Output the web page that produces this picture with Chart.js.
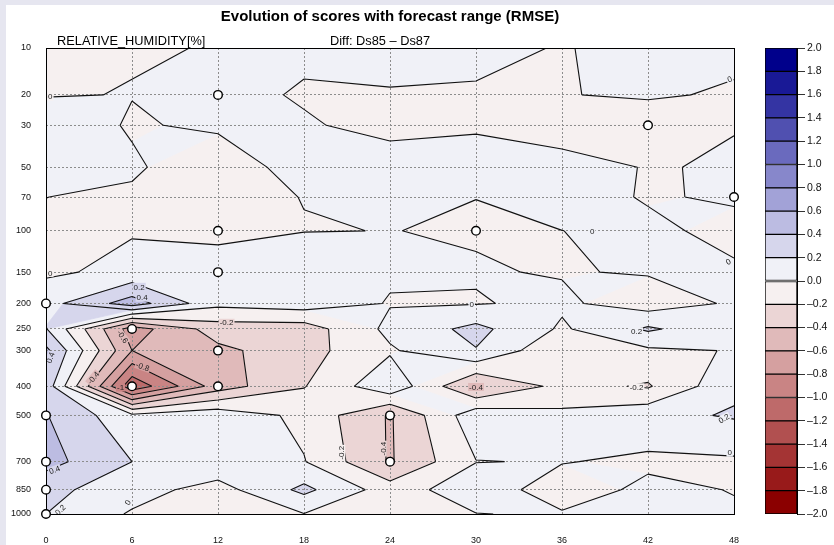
<!DOCTYPE html>
<html>
<head>
<meta charset="utf-8">
<script src="https://cdn.jsdelivr.net/npm/chart.js@4.4.1/dist/chart.umd.min.js"></script>
<style>
  html, body { margin: 0; padding: 0; }
  body { width: 834px; height: 545px; position: relative; overflow: hidden; background: #e6e6f0;
         font-family: "Liberation Sans", Arial, Helvetica, sans-serif; }
  #panel { position: absolute; left: 6px; top: 5px; right: 0; bottom: 0; background: #fff; }
  #main { position: absolute; left: 0; top: 0; }
  #bar { position: absolute; left: 757px; top: 0; }
  .t { position: absolute; white-space: nowrap; color: #000; }
  #title { left: 140px; width: 500px; top: 7px; text-align: center; font-weight: bold; font-size: 15px; }
  #param { left: 57px; top: 33px; font-size: 12.8px; }
  #diff { left: 330px; top: 33px; font-size: 12.8px; }
</style>
</head>
<body>
<div id="panel"></div>
<canvas id="main" width="834" height="545"></canvas>
<canvas id="bar" width="77" height="545"></canvas>
<div class="t" id="title">Evolution of scores with forecast range (RMSE)</div>
<div class="t" id="param">RELATIVE_HUMIDITY[%]</div>
<div class="t" id="diff">Diff: Ds85 &#8211; Ds87</div>
<script>
// Forecast steps (hours) and pressure levels (hPa)
const hours = [0, 6, 12, 18, 24, 30, 36, 42, 48];
const levels = [10, 20, 30, 50, 70, 100, 150, 200, 250, 300, 400, 500, 700, 850, 1000];

// RMSE difference (Ds85 - Ds87) per level, one value per forecast step
const hPa10   = [-0.008, -0.008, 0.004, 0.037, 0.05, 0.05, -0.011, 0.062, 0.021];
const hPa20   = [-0.008, 0.004, 0.06, -0.019, -0.010, -0.021, -0.003, 0.01, -0.01];
const hPa30   = [0.1, -0.016, 0.028, 0.021, -0.06, -0.02, -0.13, -0.052, -0.007];
const hPa50   = [0.08, 0.024, -0.11, 0.083, 0.1, 0.075, 0.1, -0.014, 0.021];
const hPa70   = [0.001, -0.026, -0.04, 0.003, 0.05, 0.001, 0.15, -0.03, 0.04];
const hPa100  = [-0.03, -0.012, -0.031, -0.005, 0.002, -0.012, -0.002, 0.078, -0.103];
const hPa150  = [-0.03, 0.05, 0.06, 0.15, 0.02, 0.012, -0.011, 0.014, 0.053];
const hPa200  = [0.125, 0.5, 0.05, 0.1, -0.01, -0.01, 0.034, -0.1, 0.025];
const hPa250  = [0.21, -0.7, -0.3, -0.3, 0.05, 0.258, -0.029, 0.23, 0.05];
const hPa300  = [0.45, -0.6, -0.45, -0.276, -0.024, 0.19, -0.175, -0.037, 0.009];
const hPa400  = [0.32, -1.15, -0.5, -0.21, 0.15, -0.42, -0.138, -0.22, 0.159];
const hPa500  = [0.41, 0.05, 0.136, -0.053, -0.42, 0.13, 0.044, 0.14, 0.22];
const hPa700  = [0.47, 0.2, 0.15, 0.01, -0.42, -0.005, 0.01, -0.04, -0.03];
const hPa850  = [0.26, 0.08, -0.08, 0.25, -0.1, 0.12, -0.11, 0.05, -0.008];
const hPa1000 = [0.2, -0.021, -0.005, -0.005, -0.05, -0.005, 0.02, 0.03, 0.025];
const field = [hPa10, hPa20, hPa30, hPa50, hPa70, hPa100, hPa150, hPa200,
               hPa250, hPa300, hPa400, hPa500, hPa700, hPa850, hPa1000];

// Points where the difference is significant
const sigHours  = [12, 42, 48, 12, 30, 12, 0, 6, 12, 6, 12, 0, 24, 0, 24, 0, 0];
const sigLevels = [20, 30, 70, 100, 100, 150, 200, 250, 300, 400, 400, 500, 500, 700, 700, 850, 1000];

// Contour annotations: position (hour, hPa), contour value, text angle (deg)
const labelHours  = [0.3, 0.3, 47.7, 47.6, 38.1, 29.7, 47.7, 5.7, 6.5, 6.7, 12.6, 5.35, 3.3, 6.75, 5.2,
                     0.3, 0.6, 1.0, 30.0, 41.2, 41.2, 47.3, 20.6, 23.5];
const labelLevels = [20.5, 151, 16, 136, 100, 202, 657, 926, 172, 190, 237, 267, 374, 342, 404,
                     318, 741, 973, 402, 255, 403, 512, 657, 638];
const labelValues = [0, 0, 0, 0, 0, 0, 0, 0, 0.2, 0.4, -0.2, -0.6, -0.4, -0.8, -1,
                     0.4, 0.4, 0.2, -0.4, 0.2, -0.2, 0.2, -0.2, -0.4];
const labelAngles = [0, 0, -20, -30, 0, 0, 0, -60, 0, 0, 0, 55, -50, 20, 0,
                     -70, -20, -45, 0, 0, 0, -30, -90, -90];

// Shading intervals of the colour key (-2.0 ... 2.0, step 0.2)
const bandEdges = [-2.0, -1.8, -1.6, -1.4, -1.2, -1.0, -0.8, -0.6, -0.4, -0.2, 0.0,
                   0.2, 0.4, 0.6, 0.8, 1.0, 1.2, 1.4, 1.6, 1.8, 2.0];
const bandColors = [
  'rgb(139,0,0)', 'rgb(152,26,26)', 'rgb(164,52,52)', 'rgb(177,80,80)', 'rgb(190,106,106)',
  'rgb(201,132,132)', 'rgb(213,160,160)', 'rgb(224,186,186)', 'rgb(235,213,213)', 'rgb(246,240,240)',
  'rgb(240,241,247)', 'rgb(214,214,236)', 'rgb(188,188,226)', 'rgb(162,162,215)', 'rgb(135,135,203)',
  'rgb(106,106,190)', 'rgb(80,80,176)', 'rgb(52,52,163)', 'rgb(25,25,150)', 'rgb(0,0,139)'
];

const FONT = '"Liberation Sans", Arial, Helvetica, sans-serif';

// Vertical coordinate: pressure mapped to a height-like axis
const tf = p => Math.pow(p, 0.19);

function gridPixels(xs, ys) {
  return levels.map((p, r) => hours.map((h, c) => ({
    x: xs.getPixelForValue(h), y: ys.getPixelForValue(tf(p)), v: field[r][c]
  })));
}

function bandColorFor(v) {
  for (let k = 0; k < bandColors.length; k++) if (v < bandEdges[k + 1]) return bandColors[k];
  return bandColors[bandColors.length - 1];
}

// Bilinear value of the field at (hour, hPa)
function valueAt(h, p) {
  const ci = Math.min(hours.length - 2, Math.max(0, Math.floor(h / 6)));
  let ri = 0;
  while (ri < levels.length - 2 && p > levels[ri + 1]) ri++;
  const tx = (h - hours[ci]) / (hours[ci + 1] - hours[ci]);
  const ty = (tf(p) - tf(levels[ri])) / (tf(levels[ri + 1]) - tf(levels[ri]));
  const a = field[ri][ci], b = field[ri][ci + 1], c = field[ri + 1][ci], d = field[ri + 1][ci + 1];
  return (a * (1 - tx) + b * tx) * (1 - ty) + (c * (1 - tx) + d * tx) * ty;
}

function clipPoly(poly, level, keepAbove) {
  const out = [];
  for (let i = 0; i < poly.length; i++) {
    const a = poly[i], b = poly[(i + 1) % poly.length];
    const ina = keepAbove ? a.v >= level : a.v <= level;
    const inb = keepAbove ? b.v >= level : b.v <= level;
    if (ina) out.push(a);
    if (ina !== inb) {
      const t = (level - a.v) / (b.v - a.v);
      out.push({ x: a.x + t * (b.x - a.x), y: a.y + t * (b.y - a.y), v: level });
    }
  }
  return out;
}

function cellSegments(q, L) {
  const pairs = [[0, 1], [1, 2], [2, 3], [3, 0]];
  const pts = [];
  pairs.forEach(([i, j], e) => {
    const a = q[i], b = q[j];
    if ((a.v < L) !== (b.v < L)) {
      const t = (L - a.v) / (b.v - a.v);
      pts[e] = { x: a.x + t * (b.x - a.x), y: a.y + t * (b.y - a.y) };
    }
  });
  const idx = [0, 1, 2, 3].filter(e => pts[e]);
  if (idx.length === 2) return [[pts[idx[0]], pts[idx[1]]]];
  if (idx.length === 4) {
    const centreAbove = (q[0].v + q[1].v + q[2].v + q[3].v) / 4 >= L;
    const segs = [];
    for (let i = 0; i < 4; i++) {
      if ((q[i].v >= L) !== centreAbove) segs.push([pts[(i + 3) % 4], pts[i]]);
    }
    return segs;
  }
  return [];
}

const labelText = v => v === 0 ? '0' : (Number.isInteger(v) ? String(v) : v.toFixed(1));

const contourPlugin = {
  id: 'rhContours',
  beforeDraw(chart) {
    const { ctx, chartArea: a, scales } = chart;
    const P = gridPixels(scales.x, scales.y);
    ctx.save();
    ctx.beginPath(); ctx.rect(a.left, a.top, a.width, a.height); ctx.clip();
    ctx.lineJoin = 'round';
    for (let r = 0; r < levels.length - 1; r++) {
      for (let c = 0; c < hours.length - 1; c++) {
        const quad = [P[r][c], P[r][c + 1], P[r + 1][c + 1], P[r + 1][c]];
        for (let k = 0; k < bandColors.length; k++) {
          const poly = clipPoly(clipPoly(quad, bandEdges[k], true), bandEdges[k + 1], false);
          if (poly.length < 3) continue;
          ctx.beginPath();
          poly.forEach((p, i) => i ? ctx.lineTo(p.x, p.y) : ctx.moveTo(p.x, p.y));
          ctx.closePath();
          ctx.fillStyle = ctx.strokeStyle = bandColors[k];
          ctx.lineWidth = 0.8;
          ctx.fill(); ctx.stroke();
        }
      }
    }
    ctx.restore();
  },
  beforeDatasetsDraw(chart) {
    const { ctx, chartArea: a, scales } = chart;
    const P = gridPixels(scales.x, scales.y);
    ctx.save();
    ctx.beginPath(); ctx.rect(a.left, a.top, a.width, a.height); ctx.clip();
    ctx.strokeStyle = '#111';
    ctx.lineWidth = 1.1;
    ctx.lineJoin = 'round';
    ctx.beginPath();
    for (let k = 1; k < bandEdges.length - 1; k++) {
      const L = bandEdges[k];
      for (let r = 0; r < levels.length - 1; r++) {
        for (let c = 0; c < hours.length - 1; c++) {
          const quad = [P[r][c], P[r][c + 1], P[r + 1][c + 1], P[r + 1][c]];
          cellSegments(quad, L).forEach(([p, q]) => { ctx.moveTo(p.x, p.y); ctx.lineTo(q.x, q.y); });
        }
      }
    }
    ctx.stroke();

    // contour value annotations
    ctx.font = '8px ' + FONT;
    ctx.textAlign = 'center';
    ctx.textBaseline = 'middle';
    labelHours.forEach((h, i) => {
      const x = scales.x.getPixelForValue(h);
      const y = scales.y.getPixelForValue(tf(labelLevels[i]));
      const txt = labelText(labelValues[i]);
      const w = ctx.measureText(txt).width;
      ctx.save();
      ctx.translate(x, y);
      ctx.rotate(labelAngles[i] * Math.PI / 180);
      ctx.fillStyle = bandColorFor(valueAt(h, labelLevels[i]));
      ctx.fillRect(-w / 2 - 1, -4, w + 2, 8);
      ctx.fillStyle = '#222';
      ctx.fillText(txt, 0, 0.5);
      ctx.restore();
    });
    ctx.restore();

    ctx.save();
    ctx.strokeStyle = '#000';
    ctx.lineWidth = 1;
    ctx.strokeRect(Math.round(a.left) + 0.5, Math.round(a.top) + 0.5, Math.round(a.width), Math.round(a.height));
    ctx.restore();
  }
};

const gridStyle = { color: '#8c8c8c', lineWidth: 1, drawTicks: false };

new Chart(document.getElementById('main'), {
  type: 'scatter',
  data: {
    datasets: [{
      label: 'significant',
      data: sigHours.map((h, i) => ({ x: h, y: tf(sigLevels[i]) })),
      pointRadius: 4.3,
      pointBorderWidth: 1.4,
      pointBorderColor: '#000',
      pointBackgroundColor: '#fff',
      pointHoverRadius: 4.3,
      clip: false
    }]
  },
  options: {
    responsive: false,
    animation: false,
    events: [],
    layout: { autoPadding: false, padding: { left: 6, top: 48, right: 100, bottom: 0 } },
    plugins: { legend: { display: false }, tooltip: { enabled: false } },
    scales: {
      x: {
        type: 'linear', min: 0, max: 48,
        grid: gridStyle,
        border: { display: false, dash: [2, 2] },
        ticks: { stepSize: 6, padding: 21, color: '#111', font: { family: FONT, size: 9 }, maxRotation: 0 },
        afterFit: s => { s.height = 31; }
      },
      y: {
        type: 'linear', reverse: true, min: tf(10), max: tf(1000),
        grid: gridStyle,
        border: { display: false, dash: [2, 2] },
        afterBuildTicks: s => { s.ticks = levels.map(p => ({ value: tf(p) })); },
        ticks: {
          autoSkip: false, padding: 15, color: '#111', font: { family: FONT, size: 9 },
          callback: (v, i) => String(levels[i])
        },
        afterFit: s => { s.width = 40; }
      }
    }
  },
  plugins: [contourPlugin]
});

// Colour key
const keyLabel = v => (v < -1e-9 ? '\u2013' : '') + Math.abs(v).toFixed(1);
new Chart(document.getElementById('bar'), {
  type: 'bar',
  data: {
    labels: ['key'],
    datasets: bandColors.map((col, k) => ({
      data: [[bandEdges[k], bandEdges[k + 1]]],
      backgroundColor: col,
      borderColor: '#000',
      borderWidth: 1,
      borderSkipped: false,
      grouped: false,
      barPercentage: 1,
      categoryPercentage: 1
    }))
  },
  options: {
    responsive: false,
    animation: false,
    events: [],
    layout: { autoPadding: false, padding: { left: 8, top: 48, right: 0, bottom: 31 } },
    plugins: { legend: { display: false }, tooltip: { enabled: false } },
    scales: {
      x: { display: false },
      y: {
        position: 'right', min: -2, max: 2,
        afterBuildTicks: s => { s.ticks = bandEdges.map(v => ({ value: v })); },
        grid: { drawOnChartArea: false, drawTicks: true, tickLength: 8, color: '#333' },
        border: { display: true, color: '#000' },
        ticks: { autoSkip: false, padding: 2, color: '#111', font: { family: FONT, size: 10.5 },
                 callback: (v, i) => keyLabel(bandEdges[i]) },
        afterFit: s => { s.width = 37; }
      }
    }
  }
});
</script>
</body>
</html>
